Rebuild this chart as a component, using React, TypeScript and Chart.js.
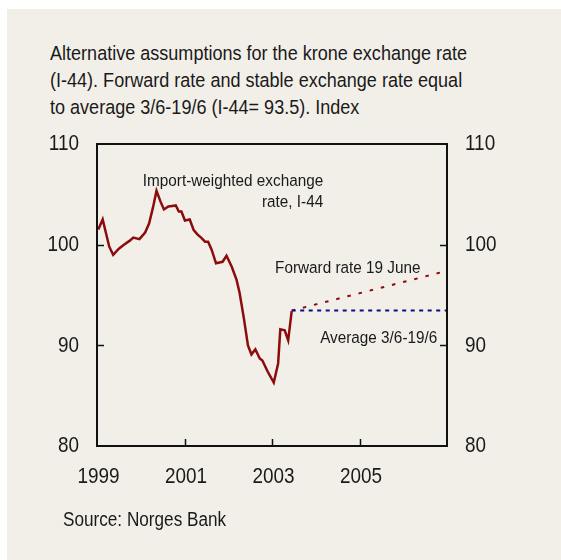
import React, { useEffect, useRef } from 'react';
import { Chart, registerables } from 'chart.js';
Chart.register(...registerables);

// Import-weighted exchange rate, I-44 (decimal years, index)
const years = [
  1999.03, 1999.13, 1999.28, 1999.37, 1999.5, 1999.6, 1999.75, 1999.83, 1999.97,
  2000.1, 2000.19, 2000.28, 2000.36, 2000.45, 2000.53, 2000.63, 2000.72, 2000.8, 2000.87, 2000.93,
  2001.01, 2001.12, 2001.21, 2001.3, 2001.38, 2001.47, 2001.54, 2001.62, 2001.72, 2001.87, 2001.96,
  2002.08, 2002.19, 2002.26, 2002.36, 2002.45, 2002.53, 2002.62, 2002.72, 2002.78, 2002.9,
  2003.04, 2003.14, 2003.19, 2003.29, 2003.37, 2003.45,
];
const i44 = [
  101.5, 102.5, 99.8, 99.0, 99.6, 99.95, 100.4, 100.7, 100.55,
  101.2, 102.1, 103.7, 105.35, 104.3, 103.5, 103.8, 103.85, 103.9, 103.3, 103.3,
  102.4, 102.5, 101.45, 101.0, 100.7, 100.3, 100.3, 99.5, 98.15, 98.3, 98.9,
  97.8, 96.5, 95.2, 92.6, 90.0, 89.1, 89.6, 88.7, 88.5, 87.4,
  86.3, 88.2, 91.6, 91.5, 90.5, 93.4,
];
const forwardYears = [2003.45, 2007];
const forwardValues = [93.45, 97.4];
const averageYears = [2003.45, 2007];
const averageValues = [93.45, 93.45];

const xMin = 1999;
const xMax = 2007;
const yMin = 80;
const yMax = 110;
const xLabelYears = [1999, 2001, 2003, 2005];
const yLabelValues = [80, 90, 100, 110];
const xInnerTicks = [2001, 2003, 2005];
const yInnerTicks = [90, 100];

const annotationTexts = ['Import-weighted exchange', 'rate, I-44', 'Forward rate 19 June', 'Average 3/6-19/6'];
const annotationX = [2004.17, 2004.17, 2003.07, 2004.1];
const annotationY = [106.3, 104.22, 97.68, 90.73];
const annotationAlign = ['right', 'right', 'left', 'left'];

const FONT = '"Liberation Sans", Arial, Helvetica, sans-serif';
const RED = '#8b0c0c';
const BLUE = '#0a0a8c';
const TEXT = '#1a1a1a';
const SX = 0.88;

function drawText(ctx: any, t: string, x: number, y: number, align: string) {
  ctx.save();
  ctx.translate(x, y);
  ctx.scale(SX, 1);
  ctx.textAlign = align;
  ctx.fillText(t, 0, 0);
  ctx.restore();
}

const framePlugin = {
  id: 'framePlugin',
  afterDatasetsDraw(chart: any) {
    const { ctx, chartArea: a, scales } = chart;
    ctx.save();
    ctx.strokeStyle = '#111';
    ctx.lineWidth = 2;
    ctx.strokeRect(a.left, a.top, a.right - a.left, a.bottom - a.top);
    ctx.lineWidth = 1.5;
    ctx.beginPath();
    for (const v of xInnerTicks) {
      const x = Math.round(scales.x.getPixelForValue(v)) + 0.5;
      ctx.moveTo(x, a.bottom);
      ctx.lineTo(x, a.bottom - 7);
    }
    for (const v of yInnerTicks) {
      const y = Math.round(scales.y.getPixelForValue(v)) + 0.5;
      ctx.moveTo(a.left, y);
      ctx.lineTo(a.left + 7, y);
      ctx.moveTo(a.right, y);
      ctx.lineTo(a.right - 7, y);
    }
    ctx.stroke();

    ctx.fillStyle = TEXT;
    ctx.textBaseline = 'middle';
    // tick labels
    ctx.font = `21.5px ${FONT}`;
    for (const v of yLabelValues) {
      drawText(ctx, String(v), a.left - 18, scales.y.getPixelForValue(v) + 0.5, 'right');
      drawText(ctx, String(v), a.right + 18, scales.y2.getPixelForValue(v) + 0.5, 'left');
    }
    for (const v of xLabelYears) {
      drawText(ctx, String(v), scales.x.getPixelForValue(v) + 1.5, a.bottom + 31.5, 'center');
    }
    // annotations
    ctx.font = `17.4px ${FONT}`;
    annotationTexts.forEach((t, i) => {
      drawText(ctx, t, scales.x.getPixelForValue(annotationX[i]), scales.y.getPixelForValue(annotationY[i]), annotationAlign[i]);
    });
    ctx.restore();
  },
};

export default function App() {
  const ref = useRef<HTMLCanvasElement | null>(null);

  useEffect(() => {
    if (!ref.current) return;
    const chart = new Chart(ref.current, {
      type: 'line',
      data: {
        datasets: [
          {
            label: 'I-44',
            data: years.map((x, i) => ({ x, y: i44[i] })),
            borderColor: RED,
            borderWidth: 2.5,
            pointRadius: 0,
            tension: 0,
            yAxisID: 'y',
          },
          {
            label: 'Average 3/6-19/6',
            data: averageYears.map((x, i) => ({ x, y: averageValues[i] })),
            borderColor: BLUE,
            borderWidth: 2,
            borderDash: [4, 4.5],
            pointRadius: 0,
            yAxisID: 'y',
          },
          {
            label: 'Forward rate 19 June',
            data: forwardYears.map((x, i) => ({ x, y: forwardValues[i] })),
            borderColor: RED,
            borderWidth: 2,
            borderDash: [3.5, 8],
            pointRadius: 0,
            yAxisID: 'y',
          },
        ],
      },
      options: {
        animation: false,
        responsive: false,
        maintainAspectRatio: false,
        layout: { padding: { top: 144, left: 0, right: 0, bottom: 0 } },
        plugins: { legend: { display: false }, tooltip: { enabled: false }, title: { display: false } },
        scales: {
          x: {
            type: 'linear',
            min: xMin,
            max: xMax,
            grid: { display: false, drawTicks: false },
            border: { display: false },
            afterFit: (s: any) => { s.height = 114; },
            ticks: { display: false },
          },
          y: {
            type: 'linear',
            position: 'left',
            min: yMin,
            max: yMax,
            grid: { display: false, drawTicks: false },
            border: { display: false },
            afterFit: (s: any) => { s.width = 97; },
            ticks: { display: false, stepSize: 10 },
          },
          y2: {
            type: 'linear',
            position: 'right',
            min: yMin,
            max: yMax,
            grid: { display: false, drawTicks: false },
            border: { display: false },
            afterFit: (s: any) => { s.width = 114; },
            ticks: { display: false, stepSize: 10 },
          },
        },
      },
      plugins: [framePlugin],
    } as any);
    return () => chart.destroy();
  }, []);

  const textStyle: any = {
    position: 'absolute',
    fontFamily: FONT,
    color: TEXT,
    whiteSpace: 'nowrap',
    transform: `scaleX(${SX})`,
    transformOrigin: 'left top',
  };

  return (
    <div style={{ position: 'fixed', left: 0, top: 0, width: 561, height: 560, background: '#ffffff', overflow: 'hidden' }}>
      <div style={{ position: 'absolute', left: 7, top: 9, width: 554, height: 551, background: '#f2efe9' }} />
      <div style={{ ...textStyle, left: 50, top: 39, fontSize: 20.5, lineHeight: '27px' }}>
        Alternative assumptions for the krone exchange rate
        <br />
        (I-44). Forward rate and stable exchange rate equal
        <br />
        to average 3/6-19/6 (I-44= 93.5). Index
      </div>
      <canvas ref={ref} width={561} height={560} style={{ position: 'absolute', left: 0, top: 0, width: 561, height: 560 }} />
      <div style={{ ...textStyle, left: 63, top: 508, fontSize: 19.5, lineHeight: '22px' }}>
        Source: Norges Bank
      </div>
    </div>
  );
}
